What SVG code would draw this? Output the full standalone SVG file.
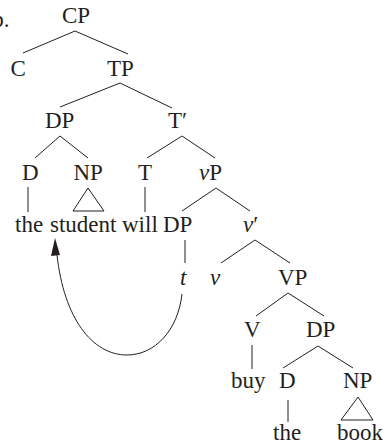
<svg xmlns="http://www.w3.org/2000/svg" width="383" height="445" viewBox="0 0 383 445">
<style>
text{font-family:"Liberation Serif","Times New Roman",serif;font-size:23px;fill:#231f20}
.i{font-style:italic}
line,polyline,path{stroke:#231f20;stroke-width:1;fill:none}
.tri{fill:none;stroke:#231f20;stroke-width:1}
.ah{fill:#231f20;stroke:none}
</style>
<rect width="383" height="445" fill="#fff"/>
<text x="9.5" y="27" text-anchor="end">b.</text>
<g id="nodes">
<g id="CP"><text x="62" y="23">CP</text></g>
<g id="C"><text x="10.5" y="76">C</text></g>
<g id="TP"><text x="107" y="76">TP</text></g>
<g id="DP1"><text x="45" y="128">DP</text></g>
<g id="Tbar"><text x="168" y="128">T′</text></g>
<g id="D1"><text x="22" y="180">D</text></g>
<g id="NP1"><text x="73.5" y="180">NP</text></g>
<g id="T"><text x="138" y="180">T</text></g>
<g id="vP"><text x="199" y="180"><tspan class="i">v</tspan>P</text></g>
<g id="the1"><text x="15" y="232">the</text></g>
<g id="student"><text x="50" y="232">student</text></g>
<g id="will"><text x="122" y="232">will</text></g>
<g id="DP2"><text x="163" y="232">DP</text></g>
<g id="vbar"><text x="243" y="232"><tspan class="i">v</tspan>′</text></g>
<g id="t"><text class="i" x="180" y="285">t</text></g>
<g id="v"><text class="i" x="210" y="285">v</text></g>
<g id="VP"><text x="278" y="285">VP</text></g>
<g id="V"><text x="244" y="337">V</text></g>
<g id="DP3"><text x="306" y="337">DP</text></g>
<g id="buy"><text x="231" y="388">buy</text></g>
<g id="D2"><text x="279" y="388">D</text></g>
<g id="NP2"><text x="343" y="388">NP</text></g>
<g id="the2"><text x="273" y="440">the</text></g>
<g id="book"><text x="337" y="440">book</text></g>
</g>
<g id="connectors">
<line x1="75" y1="31" x2="23" y2="53"/>
<line x1="75" y1="31" x2="128" y2="54"/>
<line x1="120" y1="83" x2="60" y2="107"/>
<line x1="120" y1="83" x2="172" y2="108"/>
<line x1="60" y1="136" x2="35" y2="158"/>
<line x1="60" y1="136" x2="88" y2="158"/>
<line x1="182" y1="136" x2="147" y2="158"/>
<line x1="182" y1="136" x2="215" y2="158"/>
<line x1="28" y1="187" x2="28" y2="212"/>
<polygon class="tri" points="88,188 73,211 104,211"/>
<line x1="145" y1="187" x2="145" y2="212"/>
<line x1="216" y1="188" x2="182" y2="211"/>
<line x1="216" y1="188" x2="250" y2="211"/>
<line x1="185" y1="240" x2="185" y2="263"/>
<line x1="255" y1="240" x2="221" y2="263"/>
<line x1="255" y1="240" x2="290" y2="263"/>
<line x1="288" y1="293" x2="256" y2="316"/>
<line x1="288" y1="293" x2="324" y2="316"/>
<line x1="252" y1="345" x2="252" y2="369"/>
<line x1="318" y1="346" x2="283" y2="368"/>
<line x1="318" y1="346" x2="353" y2="368"/>
<line x1="288" y1="400" x2="288" y2="422"/>
<polygon class="tri" points="358,397 341,420 373,420"/>
<path d="M182 294 C178 330 155 355 127 355 C92 355 64 318 57 255"/>
<polygon class="ah" points="55,238 51,256 60,255"/>
</g>
</svg>
